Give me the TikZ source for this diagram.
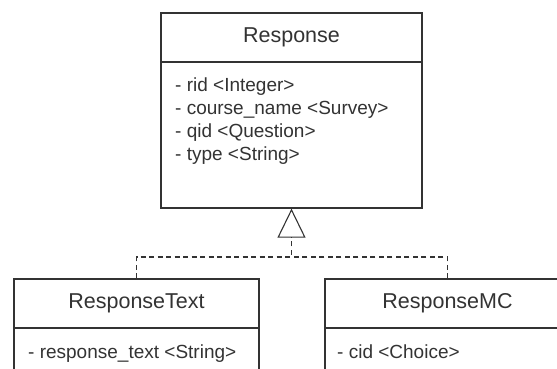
\documentclass[tikz,border=0pt]{standalone}
\usepackage{fontspec}
\setmainfont{Liberation Sans}
\usepackage{tikz}
\usetikzlibrary{arrows.meta}
\definecolor{ink}{RGB}{51,51,51}
\tikzset{
  hdr/.style={draw=ink,line width=1.3pt,fill=white,inner sep=0pt,minimum width=245pt,minimum height=49pt,font=\fontsize{21.5}{24}\selectfont,text=ink},
  bdy/.style={draw=ink,line width=1.3pt,fill=white,inner sep=0pt,minimum width=245pt},
  attr/.style={anchor=base west,inner sep=0pt,font=\fontsize{19}{22}\selectfont,text=ink},
  realz/.style={draw=ink,line width=1.1pt,dash pattern=on 5pt off 3.5pt},
  gentip/.style={-{Triangle[open,length=29pt,width=28pt,line width=1.1pt]}},
}
\begin{document}
\begin{tikzpicture}[x=1pt,y=-1pt]
\useasboundingbox (0,0) rectangle (557,369);
\clip (0,0) rectangle (557,369);
\node[bdy,minimum width=261pt,minimum height=146pt] (rsp_b) at (291.5,135) {};
\node[hdr,minimum width=261pt] (rsp) at (291.5,37.5) {Response};
\node[attr] (rsp_a1) at (175,92) {- rid <Integer>};
\node[attr] (rsp_a2) at (175,114.7) {- course\_name <Survey>};
\node[attr] (rsp_a3) at (175,137.4) {- qid <Question>};
\node[attr] (rsp_a4) at (175,160.1) {- type <String>};
\node[bdy,minimum height=80pt] (rtx_b) at (136.5,368) {};
\node[hdr] (rtx) at (136.5,303.5) {ResponseText};
\node[attr] (rtx_a1) at (28,358) {- response\_text <String>};
\node[bdy,minimum height=80pt] (rmc_b) at (447.5,368) {};
\node[hdr] (rmc) at (447.5,303.5) {ResponseMC};
\node[attr] (rmc_a1) at (337,358) {- cid <Choice>};
\coordinate (jn) at (rsp_b.south |- 0,257);
\draw[realz,gentip] (rtx.north) |- (jn) -- (rsp_b.south);
\draw[realz] (rmc.north) |- (jn);
\end{tikzpicture}
\end{document}
